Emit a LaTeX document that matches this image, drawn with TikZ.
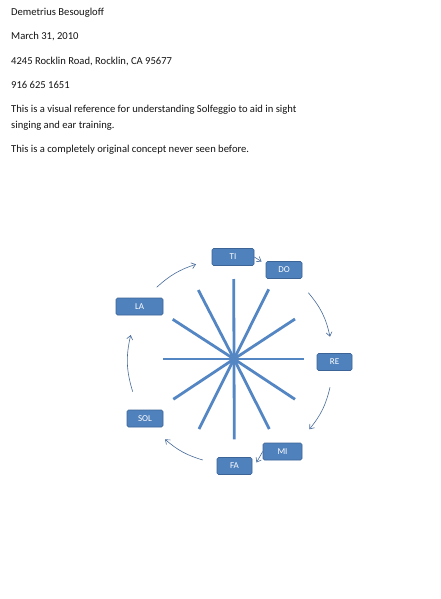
\documentclass[tikz,border=0pt]{standalone}
\usepackage{fontspec}
\setmainfont{Carlito}
\usetikzlibrary{arrows.meta}
\definecolor{boxblue}{RGB}{79,129,189}
\definecolor{boxedge}{RGB}{60,100,150}
\definecolor{raycol}{RGB}{84,134,196}
\definecolor{arrcol}{RGB}{72,108,155}
\definecolor{txt}{RGB}{20,20,20}
\tikzset{
  line/.style={anchor=base west, inner sep=0pt, font=\fontsize{10.6}{12}\selectfont, text=txt},
  note/.style={rectangle, rounded corners=1.5pt, fill=boxblue, draw=boxedge, line width=0.6pt,
    text=white, font=\fontsize{9}{10}\selectfont, minimum height=17pt, inner sep=0pt},
  ray/.style={draw=raycol, line width=2.8pt},
  arr/.style={draw=arrcol, line width=0.6pt, -{Straight Barb[length=4pt,width=6pt]}}
}
\begin{document}
\begin{tikzpicture}[x=1pt,y=-1pt]
\fill[white] (0,0) rectangle (441,599);
\useasboundingbox (0,0) rectangle (441,599);
% header text
\node[line] (l1) at (11,16) {Demetrius Besougloff};
\node[line] (l2) at (11,40) {March 31, 2010};
\node[line] (l3) at (11,64.5) {4245 Rocklin Road, Rocklin, CA 95677};
\node[line] (l4) at (11,89) {916 625 1651};
\node[line] (l5) at (11,113) {This is a visual reference for understanding Solfeggio to aid in sight};
\node[line] (l6) at (11,128.5) {singing and ear training.};
\node[line] (l7) at (11,152) {This is a completely original concept never seen before.};
% star
\coordinate (c) at (234,359);
\coordinate (r1) at (233.7,279);
\coordinate (r2) at (234.3,439.3);
\coordinate (r3) at (163.3,359);
\coordinate (r4) at (304,359);
\coordinate (r5) at (198.3,290);
\coordinate (r6) at (268.7,289.3);
\coordinate (r7) at (172.7,319.3);
\coordinate (r8) at (295,319);
\coordinate (r9) at (173.3,399.3);
\coordinate (r10) at (295,399.3);
\coordinate (r11) at (199,429);
\coordinate (r12) at (269.3,429);
\draw[ray] (c) -- (r1);
\draw[ray] (c) -- (r2);
\draw[ray] (c) -- (r3);
\draw[ray] (c) -- (r4);
\draw[ray] (c) -- (r5);
\draw[ray] (c) -- (r6);
\draw[ray] (c) -- (r7);
\draw[ray] (c) -- (r8);
\draw[ray] (c) -- (r9);
\draw[ray] (c) -- (r10);
\draw[ray] (c) -- (r11);
\draw[ray] (c) -- (r12);
\fill[raycol] (c) circle (3.5pt);
% notes
\node[note, minimum width=42pt] (TI) at (233,257) {TI};
\node[note, minimum width=36pt] (DO) at (284,270) {DO};
\node[note, minimum width=35pt] (RE) at (334.5,362) {RE};
\node[note, minimum width=39pt] (MI) at (282.5,451.5) {MI};
\node[note, minimum width=35pt] (FA) at (234.5,466) {FA};
\node[note, minimum width=36pt] (SOL) at (145,418.5) {SOL};
\node[note, minimum width=47pt] (LA) at (139.5,306.5) {LA};
% arrow ends
\coordinate (a1s) at (156.7,287.3); \coordinate (a1e) at (196,264.3);
\coordinate (a2e) at (261.5,261.5);
\coordinate (a3s) at (308.3,292.7); \coordinate (a3e) at (330,336.7);
\coordinate (a4s) at (330,387.3); \coordinate (a4e) at (309.3,429.3);
\coordinate (a5e) at (256.5,462.5);
\coordinate (a6s) at (202.7,460); \coordinate (a6e) at (165,439.3);
\coordinate (a7s) at (132.7,391.7); \coordinate (a7e) at (130.7,335);
\draw[arr] (a1s) to[bend left=12] (a1e);
\draw[arr] (TI.east) -- (a2e);
\draw[arr] (a3s) to[bend left=14] (a3e);
\draw[arr] (a4s) to[bend left=13] (a4e);
\draw[arr] (MI.west) -- (a5e);
\draw[arr] (a6s) to[bend left=12] (a6e);
\draw[arr] (a7s) to[bend left=15] (a7e);
\end{tikzpicture}
\end{document}
